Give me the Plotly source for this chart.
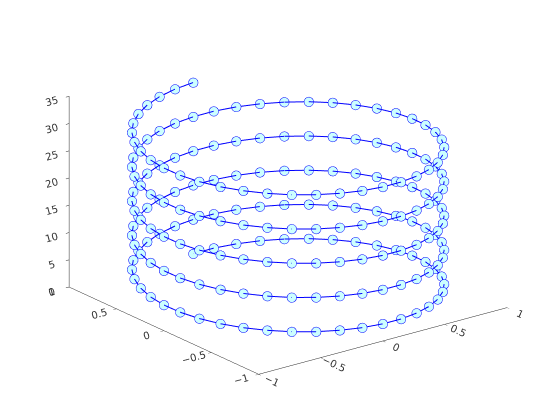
import plotly.graph_objects as go

# helix points (5 turns, 40 points per turn)
x_vals = [
    0, 0.156, 0.309, 0.454, 0.588, 0.707, 0.809, 0.891, 0.951, 0.988, 1, 0.988, 0.951, 0.891, 0.809, 0.707, 0.588, 0.454, 0.309, 0.156,
    0, -0.156, -0.309, -0.454, -0.588, -0.707, -0.809, -0.891, -0.951, -0.988, -1, -0.988, -0.951, -0.891, -0.809, -0.707, -0.588, -0.454, -0.309, -0.156,
    0, 0.156, 0.309, 0.454, 0.588, 0.707, 0.809, 0.891, 0.951, 0.988, 1, 0.988, 0.951, 0.891, 0.809, 0.707, 0.588, 0.454, 0.309, 0.156,
    0, -0.156, -0.309, -0.454, -0.588, -0.707, -0.809, -0.891, -0.951, -0.988, -1, -0.988, -0.951, -0.891, -0.809, -0.707, -0.588, -0.454, -0.309, -0.156,
    0, 0.156, 0.309, 0.454, 0.588, 0.707, 0.809, 0.891, 0.951, 0.988, 1, 0.988, 0.951, 0.891, 0.809, 0.707, 0.588, 0.454, 0.309, 0.156,
    0, -0.156, -0.309, -0.454, -0.588, -0.707, -0.809, -0.891, -0.951, -0.988, -1, -0.988, -0.951, -0.891, -0.809, -0.707, -0.588, -0.454, -0.309, -0.156,
    0, 0.156, 0.309, 0.454, 0.588, 0.707, 0.809, 0.891, 0.951, 0.988, 1, 0.988, 0.951, 0.891, 0.809, 0.707, 0.588, 0.454, 0.309, 0.156,
    0, -0.156, -0.309, -0.454, -0.588, -0.707, -0.809, -0.891, -0.951, -0.988, -1, -0.988, -0.951, -0.891, -0.809, -0.707, -0.588, -0.454, -0.309, -0.156,
    0, 0.156, 0.309, 0.454, 0.588, 0.707, 0.809, 0.891, 0.951, 0.988, 1, 0.988, 0.951, 0.891, 0.809, 0.707, 0.588, 0.454, 0.309, 0.156,
    0, -0.156, -0.309, -0.454, -0.588, -0.707, -0.809, -0.891, -0.951, -0.988, -1, -0.988, -0.951, -0.891, -0.809, -0.707, -0.588, -0.454, -0.309, -0.156,
    0,
]

y_vals = [
    1, 0.988, 0.951, 0.891, 0.809, 0.707, 0.588, 0.454, 0.309, 0.156, 0, -0.156, -0.309, -0.454, -0.588, -0.707, -0.809, -0.891, -0.951, -0.988,
    -1, -0.988, -0.951, -0.891, -0.809, -0.707, -0.588, -0.454, -0.309, -0.156, 0, 0.156, 0.309, 0.454, 0.588, 0.707, 0.809, 0.891, 0.951, 0.988,
    1, 0.988, 0.951, 0.891, 0.809, 0.707, 0.588, 0.454, 0.309, 0.156, 0, -0.156, -0.309, -0.454, -0.588, -0.707, -0.809, -0.891, -0.951, -0.988,
    -1, -0.988, -0.951, -0.891, -0.809, -0.707, -0.588, -0.454, -0.309, -0.156, 0, 0.156, 0.309, 0.454, 0.588, 0.707, 0.809, 0.891, 0.951, 0.988,
    1, 0.988, 0.951, 0.891, 0.809, 0.707, 0.588, 0.454, 0.309, 0.156, 0, -0.156, -0.309, -0.454, -0.588, -0.707, -0.809, -0.891, -0.951, -0.988,
    -1, -0.988, -0.951, -0.891, -0.809, -0.707, -0.588, -0.454, -0.309, -0.156, 0, 0.156, 0.309, 0.454, 0.588, 0.707, 0.809, 0.891, 0.951, 0.988,
    1, 0.988, 0.951, 0.891, 0.809, 0.707, 0.588, 0.454, 0.309, 0.156, 0, -0.156, -0.309, -0.454, -0.588, -0.707, -0.809, -0.891, -0.951, -0.988,
    -1, -0.988, -0.951, -0.891, -0.809, -0.707, -0.588, -0.454, -0.309, -0.156, 0, 0.156, 0.309, 0.454, 0.588, 0.707, 0.809, 0.891, 0.951, 0.988,
    1, 0.988, 0.951, 0.891, 0.809, 0.707, 0.588, 0.454, 0.309, 0.156, 0, -0.156, -0.309, -0.454, -0.588, -0.707, -0.809, -0.891, -0.951, -0.988,
    -1, -0.988, -0.951, -0.891, -0.809, -0.707, -0.588, -0.454, -0.309, -0.156, 0, 0.156, 0.309, 0.454, 0.588, 0.707, 0.809, 0.891, 0.951, 0.988,
    1,
]

z_vals = [
    0.00, 0.16, 0.31, 0.47, 0.63, 0.79, 0.94, 1.10, 1.26, 1.41, 1.57, 1.73, 1.88, 2.04, 2.20, 2.36, 2.51, 2.67, 2.83, 2.98,
    3.14, 3.30, 3.46, 3.61, 3.77, 3.93, 4.08, 4.24, 4.40, 4.56, 4.71, 4.87, 5.03, 5.18, 5.34, 5.50, 5.65, 5.81, 5.97, 6.13,
    6.28, 6.44, 6.60, 6.75, 6.91, 7.07, 7.23, 7.38, 7.54, 7.70, 7.85, 8.01, 8.17, 8.33, 8.48, 8.64, 8.80, 8.95, 9.11, 9.27,
    9.42, 9.58, 9.74, 9.90, 10.05, 10.21, 10.37, 10.52, 10.68, 10.84, 11.00, 11.15, 11.31, 11.47, 11.62, 11.78, 11.94, 12.10, 12.25, 12.41,
    12.57, 12.72, 12.88, 13.04, 13.19, 13.35, 13.51, 13.67, 13.82, 13.98, 14.14, 14.29, 14.45, 14.61, 14.77, 14.92, 15.08, 15.24, 15.39, 15.55,
    15.71, 15.87, 16.02, 16.18, 16.34, 16.49, 16.65, 16.81, 16.96, 17.12, 17.28, 17.44, 17.59, 17.75, 17.91, 18.06, 18.22, 18.38, 18.54, 18.69,
    18.85, 19.01, 19.16, 19.32, 19.48, 19.63, 19.79, 19.95, 20.11, 20.26, 20.42, 20.58, 20.73, 20.89, 21.05, 21.21, 21.36, 21.52, 21.68, 21.83,
    21.99, 22.15, 22.31, 22.46, 22.62, 22.78, 22.93, 23.09, 23.25, 23.40, 23.56, 23.72, 23.88, 24.03, 24.19, 24.35, 24.50, 24.66, 24.82, 24.98,
    25.13, 25.29, 25.45, 25.60, 25.76, 25.92, 26.08, 26.23, 26.39, 26.55, 26.70, 26.86, 27.02, 27.17, 27.33, 27.49, 27.65, 27.80, 27.96, 28.12,
    28.27, 28.43, 28.59, 28.75, 28.90, 29.06, 29.22, 29.37, 29.53, 29.69, 29.85, 30.00, 30.16, 30.32, 30.47, 30.63, 30.79, 30.94, 31.10, 31.26,
    31.42,
]

xy_ticks = [-1, -0.5, 0, 0.5, 1]
z_ticks = [0, 5, 10, 15, 20, 25, 30, 35]

fig = go.Figure()
fig.add_trace(go.Scatter3d(
    x=x_vals, y=y_vals, z=z_vals,
    mode='lines+markers',
    line=dict(color='#0000ff', width=2),
    marker=dict(size=5.5, color='#ccffff', symbol='circle', opacity=1,
                line=dict(color='#0000ff', width=1)),
    showlegend=False,
    hoverinfo='skip'
))

axis_common = dict(
    showgrid=False,
    showbackground=False,
    zeroline=False,
    showline=True,
    linecolor='#262626',
    linewidth=1,
    ticks='outside',
    ticklen=4,
    tickcolor='#262626',
    tickfont=dict(family='DejaVu Sans', size=11, color='#333333'),
    title=dict(text=''),
    showspikes=False,
)

fig.update_layout(
    width=560, height=420,
    paper_bgcolor='white',
    margin=dict(l=0, r=0, t=0, b=32),
    scene=dict(
        xaxis=dict(range=[-1, 1], tickvals=xy_ticks, **axis_common),
        yaxis=dict(range=[-1, 1], tickvals=xy_ticks, **axis_common),
        zaxis=dict(range=[0, 35], tickvals=z_ticks, **axis_common),
        aspectmode='manual',
        aspectratio=dict(x=1.61, y=1.61, z=1.05),
        camera=dict(
            projection=dict(type='orthographic'),
            eye=dict(x=-0.97, y=-1.27, z=0.6),
            center=dict(x=0, y=0, z=0),
            up=dict(x=0, y=0, z=1),
        ),
        bgcolor='white',
    ),
)

fig.write_html("out.html")
